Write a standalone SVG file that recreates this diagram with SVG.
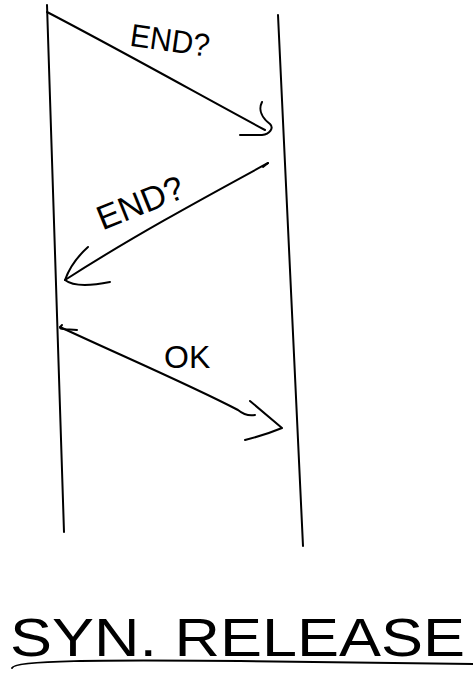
<svg xmlns="http://www.w3.org/2000/svg" width="473" height="675" viewBox="0 0 473 675">
<style>
.ln{fill:none;stroke:#000;stroke-width:2;stroke-linecap:round;stroke-linejoin:round}
.t{font-family:"Liberation Sans",Arial,sans-serif;fill:#000}
</style>
<rect width="473" height="675" fill="#fff"/>
<g id="lifeline-left"><path class="ln" d="M47,5 Q55,260 64,532"/></g>
<g id="lifeline-right"><path class="ln" d="M278,15 Q290,280 303,546"/></g>
<g id="connectors">
<path class="ln" d="M47,12 C120,50 200,95 265,130"/>
<path class="ln" d="M262,102 C258,110 262,118 270,124 C274,128 270,134 262,135 L240,135"/>
<path class="ln" d="M268,163 C200,200 130,238 65,280"/>
<path class="ln" d="M263,167 L268,163"/>
<path class="ln" d="M88,247 C78,256 70,266 65,280 C75,288 95,285 110,282"/>
<path class="ln" d="M62,325 C57,330 62,329 77,330"/>
<path class="ln" d="M60,327 C120,355 190,385 238,410 C244,415 250,416 255,415"/>
<path class="ln" d="M250,401 L282,428 C270,433 257,437 245,440"/>
<path class="ln" d="M12,668 C14,660 100,660 240,661 C350,662 420,664 473,664"/>
</g>
<g id="label-end1"><text class="t" x="130" y="50" font-size="32" textLength="80" lengthAdjust="spacingAndGlyphs" transform="rotate(8 160 40)">END?</text></g>
<g id="label-end2"><text class="t" x="92" y="214" font-size="34" transform="rotate(-22 140 195)">END?</text></g>
<g id="label-ok"><text class="t" x="164" y="368" font-size="32">OK</text></g>
<g id="title"><text class="t" x="10" y="656" font-size="54" textLength="455" lengthAdjust="spacingAndGlyphs">SYN. RELEASE</text></g>
</svg>
